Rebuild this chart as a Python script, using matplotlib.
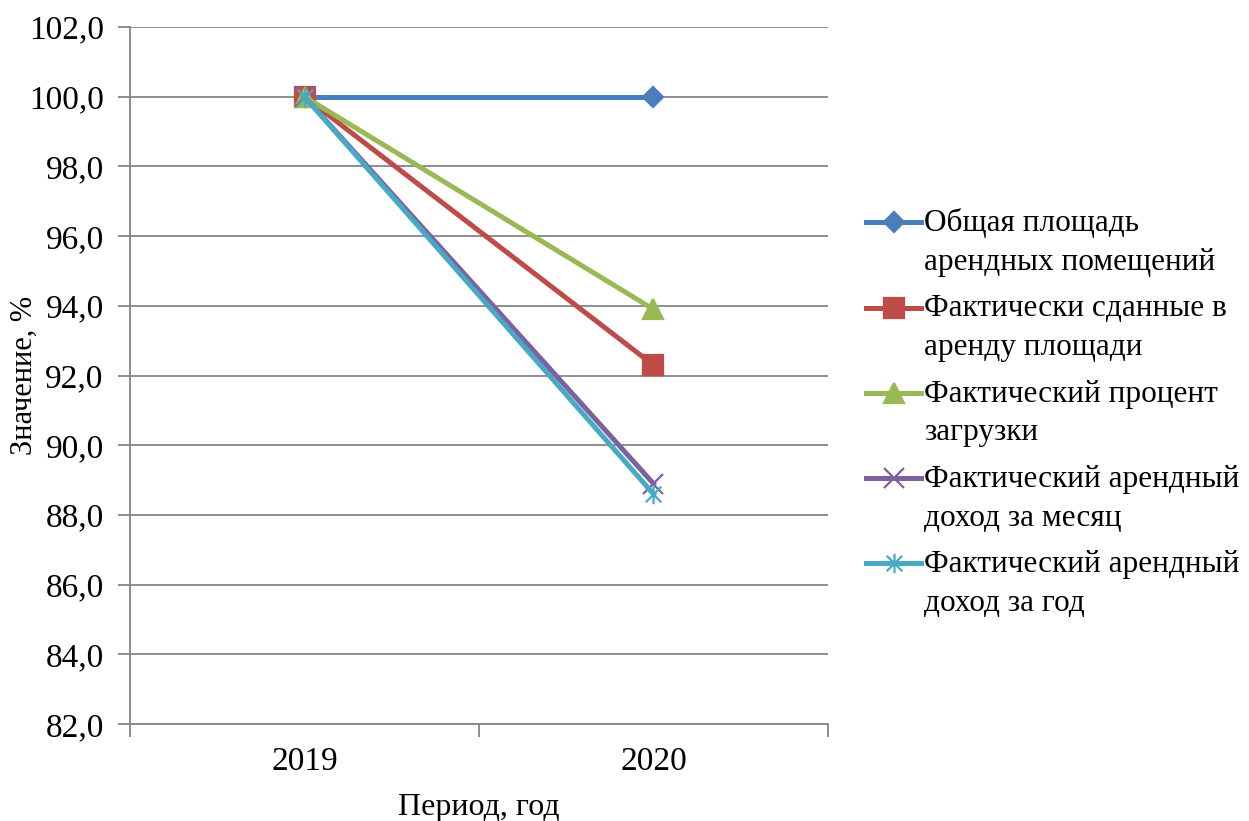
"""
Rental space indicators 2019-2020, in percent of 2019
"""

import matplotlib.pyplot as plt
from matplotlib.path import Path
from matplotlib.legend_handler import HandlerLine2D
from matplotlib.ticker import FuncFormatter, FixedLocator

plt.rcParams["font.family"] = ["Liberation Serif", "DejaVu Serif"]

# Data
years = ["2019", "2020"]
series_names = [
    "Общая площадь\nарендных помещений",
    "Фактически сданные в\nаренду площади",
    "Фактический процент\nзагрузки",
    "Фактический арендный\nдоход за месяц",
    "Фактический арендный\nдоход за год",
]
total_area = [100.0, 100.0]
rented_area = [100.0, 92.3]
load_percent = [100.0, 93.9]
income_month = [100.0, 88.9]
income_year = [100.0, 88.6]

colors = ["#4A7EBB", "#BE4B48", "#98B954", "#7D60A0", "#46AAC5"]

# excel-style asterisk: an x with a vertical bar
star = Path(
    [(-1, -1), (1, 1), (-1, 1), (1, -1), (0, -1.25), (0, 1.25)],
    [Path.MOVETO, Path.LINETO, Path.MOVETO, Path.LINETO, Path.MOVETO, Path.LINETO],
)
markers = ["D", "s", "^", "x", star]
marker_sizes = [10.5, 14.5, 15, 14, 14]


class FirstLineHandler(HandlerLine2D):
    """legend handle lined up with the first line of a two-line label"""

    def create_artists(self, legend, orig_handle, xdescent, ydescent, width, height, fontsize, trans):
        artists = super().create_artists(legend, orig_handle, xdescent, ydescent, width, height, fontsize, trans)
        for a in artists:
            a.set_ydata([y + 15 for y in a.get_ydata()])
        return artists


fig = plt.figure(figsize=(12.49, 8.21), dpi=100)
ax = fig.add_axes([0.1041, 0.1181, 0.5588, 0.849])

x = list(range(len(years)))
all_series = [total_area, rented_area, load_percent, income_month, income_year]
lines = []
for values, name, color, marker, ms in zip(all_series, series_names, colors, markers, marker_sizes):
    ln, = ax.plot(
        x, values, color=color, linewidth=3.6, marker=marker, markersize=ms,
        markerfacecolor=color, markeredgecolor=color, markeredgewidth=1.6,
        label=name, zorder=3,
    )
    lines.append(ln)

ax.set_ylim(82, 102)
ax.set_yticks([82 + 2 * i for i in range(11)])
ax.yaxis.set_major_formatter(FuncFormatter(lambda v, p: f"{v:.1f}".replace(".", ",")))
ax.set_xlim(-0.5, len(years) - 0.5)
ax.set_xticks(x)
ax.set_xticklabels(years)
ax.xaxis.set_minor_locator(FixedLocator([-0.5, 0.5, 1.5]))

grid_color = "#868686"
ax.grid(axis="y", color=grid_color, linewidth=1.3, zorder=0)
for side in ["top", "right"]:
    ax.spines[side].set_visible(False)
for side in ["left", "bottom"]:
    ax.spines[side].set_color(grid_color)
    ax.spines[side].set_linewidth(1.3)

ax.tick_params(axis="y", labelsize=24, length=9, width=1.3, color=grid_color, pad=10)
ax.tick_params(axis="x", which="major", labelsize=24, length=0, pad=16)
ax.tick_params(axis="x", which="minor", length=9, width=1.3, color=grid_color)

ax.set_ylabel("Значение, %", fontsize=22)
ax.yaxis.set_label_coords(-0.13, 0.5)
ax.set_xlabel("Период, год", fontsize=23, labelpad=12)

leg = ax.legend(
    loc="center left", bbox_to_anchor=(0.6835, 0.497), bbox_transform=fig.transFigure,
    frameon=False, fontsize=22.5, handlelength=1.75, handletextpad=0.1,
    labelspacing=0.55, borderaxespad=0, markerscale=1.0,
    handler_map={ln: FirstLineHandler() for ln in lines},
)
for t in leg.get_texts():
    t.set_linespacing(1.45)

plt.savefig("out.png", dpi=100)
plt.close()
